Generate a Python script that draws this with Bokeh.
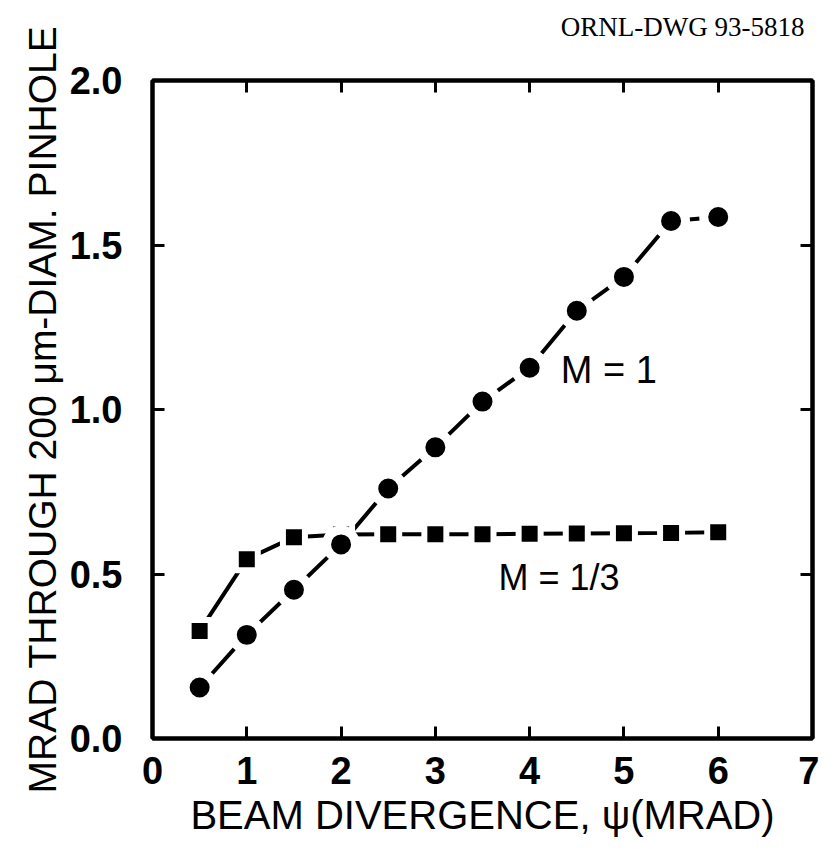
from bokeh.plotting import figure
from bokeh.models import LinearAxis, FixedTicker, Label, Range1d, NumeralTickFormatter, CustomJSTickFormatter
from bokeh.embed import file_html
from bokeh.resources import INLINE

# ---- data ----
divergence = [0.5, 1.0, 1.5, 2.0, 2.5, 3.0, 3.5, 4.0, 4.5, 5.0, 5.5, 6.0]
m_one = [0.155, 0.315, 0.452, 0.59, 0.76, 0.885, 1.024, 1.127, 1.30, 1.403, 1.573, 1.585]
m_third = [0.327, 0.545, 0.612, 0.62, 0.621, 0.621, 0.621, 0.622, 0.623, 0.624, 0.625, 0.627]
x_ticks = [0, 1, 2, 3, 4, 5, 6, 7]
y_ticks = [0.0, 0.5, 1.0, 1.5, 2.0]
top_ticks = [1, 2, 3, 4, 5, 6]
right_ticks = [0.5, 1.0, 1.5]
label_m_one = "M = 1"
label_m_third = "M = 1/3"
x_title = "BEAM DIVERGENCE, \u03c8(MRAD)"
y_title = "MRAD THROUGH 200 \u03bcm-DIAM. PINHOLE"
drawing_no = "ORNL-DWG 93-5818"

LABEL_FONT = "Liberation Sans"
TICK_FONT = "Liberation Sans"

p = figure(width=819, height=851, x_range=Range1d(0, 7), y_range=Range1d(0, 2),
           output_backend="svg", toolbar_location=None,
           min_border_left=152, min_border_right=7, min_border_top=80, min_border_bottom=113,
           x_axis_label=x_title, y_axis_label=y_title, title=drawing_no)

p.xgrid.visible = False
p.ygrid.visible = False
p.outline_line_color = "black"
p.outline_line_width = 4
p.background_fill_color = "white"
p.border_fill_color = "white"

p.title.align = "right"
p.title.vertical_align = "top"
p.title.text_font = "Liberation Serif"
p.title.text_font_style = "normal"
p.title.text_font_size = "27px"
p.title.text_color = "black"
p.title.offset = 8
p.title.standoff = 6

for ax, ticks in ((p.xaxis[0], x_ticks), (p.yaxis[0], y_ticks)):
    ax.ticker = FixedTicker(ticks=ticks)
    ax.axis_line_width = 4
    ax.major_tick_in = 12
    ax.major_tick_out = 0
    ax.major_tick_line_width = 3
    ax.minor_tick_line_color = None
    ax.major_label_text_font = TICK_FONT
    ax.major_label_text_font_style = "bold"
    ax.major_label_text_font_size = "38px"
    ax.major_label_text_color = "black"
    ax.axis_label_text_font = LABEL_FONT
    ax.axis_label_text_font_style = "normal"
    ax.axis_label_text_color = "black"

p.yaxis[0].formatter = NumeralTickFormatter(format="0.0")
p.yaxis[0].major_label_standoff = 30
p.yaxis[0].axis_label_standoff = 3
p.yaxis[0].axis_label_text_font_size = "39px"
p.xaxis[0].major_label_standoff = 18
p.xaxis[0].axis_label_standoff = 6
p.xaxis[0].axis_label_text_font_size = "40px"

blank = CustomJSTickFormatter(code="return ''")
# the top axis carries no visible labels; a blank axis label lifts the drawing number
top = LinearAxis(ticker=FixedTicker(ticks=top_ticks), formatter=blank,
                 axis_label="\u00a0", axis_label_text_font_size="28px", axis_label_standoff=0,
                 major_label_standoff=0, major_tick_in=12, major_tick_out=0,
                 axis_line_width=4, major_tick_line_width=3, minor_tick_line_color=None)
right = LinearAxis(ticker=FixedTicker(ticks=right_ticks), formatter=blank,
                   major_label_standoff=0, major_tick_in=12, major_tick_out=0,
                   axis_line_width=4, major_tick_line_width=3, minor_tick_line_color=None)
p.add_layout(top, "above")
p.add_layout(right, "right")

# solid lines, broken at each marker by a white rim
p.line(divergence, m_one, line_color="black", line_width=4)
p.line(divergence, m_third, line_color="black", line_width=4)

p.scatter(divergence, m_third, marker="square", size=22, fill_color="black",
          line_color="white", line_width=6)
p.scatter(divergence, m_one, marker="circle", size=29, fill_color="black",
          line_color="white", line_width=9)

p.add_layout(Label(x=4.33, y=1.12, text=label_m_one, text_baseline="middle",
                   text_font=TICK_FONT, text_font_size="38px", text_color="black"))
p.add_layout(Label(x=3.67, y=0.49, text=label_m_third, text_baseline="middle",
                   text_font=TICK_FONT, text_font_size="36px", text_color="black"))

open("out.html", "w").write(file_html(p, INLINE))
